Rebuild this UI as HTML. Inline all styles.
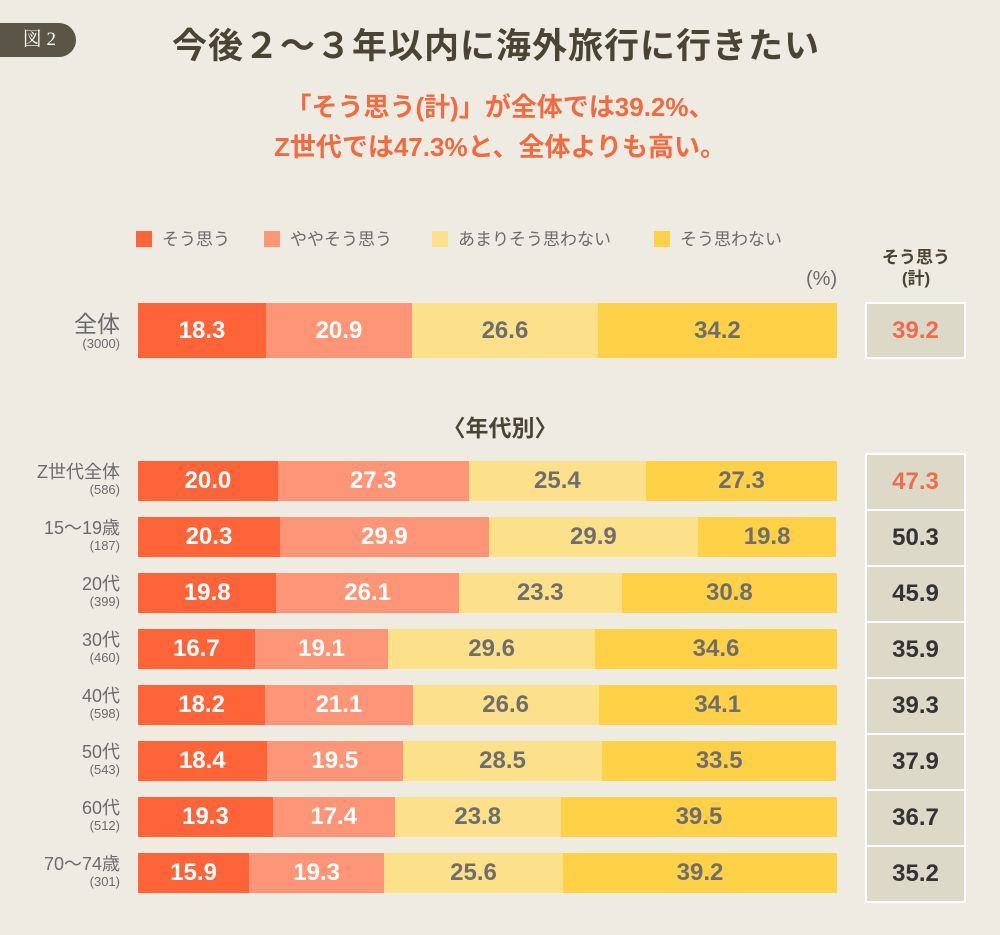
<!DOCTYPE html>
<html><head><meta charset="utf-8"><style>
body{margin:0;width:1000px;height:935px;background:#eeebe2;position:relative;overflow:hidden;font-family:"Liberation Sans","Noto Sans CJK JP",sans-serif}
.a{position:absolute}
.badge{left:-20px;top:23px;width:96px;height:34px;background:#5a5546;border-radius:17px;color:#fff;font-family:"Liberation Serif","Noto Serif CJK SC",serif;font-size:19px;line-height:34px;text-align:right;padding-right:20px;box-sizing:border-box}
.title{left:172px;top:18px;font-size:35px;color:#4a4435;letter-spacing:1px;font-weight:bold}
.sub{left:0;width:1000px;text-align:center;color:#f26a3e;font-size:26px;line-height:40px;top:87px;font-weight:bold}
.leg{top:225px;font-size:17px;color:#6b6b6b}
.leg i{display:inline-block;width:16px;height:16px;vertical-align:-2px;margin-right:10px}
.bar{left:138px;width:699px;display:flex}
.bar span{display:block;height:100%;text-align:center;font-weight:bold;font-size:24px;color:#fff}
.c1{background:#ff6338}.c2{background:#ff9577}.c3{background:#fde08a;color:#6e6e6e!important}.c4{background:#ffd146;color:#6e6e6e!important}
.box{left:865px;width:101px;box-sizing:border-box;border:2px solid #fff;background:#dcd9c8;text-align:center;font-weight:bold;font-size:24px;color:#333}
.lab{right:880px;text-align:right;color:#6b6b6b;font-size:18px;line-height:20px}
.lab small{font-size:13px;display:block;line-height:16px}
</style></head><body>
<div class="a badge">図 2</div>
<div class="a title">今後２～３年以内に海外旅行に行きたい</div>
<div class="a sub">「そう思う(計)」が全体では39.2%、<br>Z世代では47.3%と、全体よりも高い。</div>
<div class="a leg" style="left:136px"><i class="c1"></i>そう思う</div>
<div class="a leg" style="left:264px"><i class="c2"></i>ややそう思う</div>
<div class="a leg" style="left:432px"><i class="c3"></i>あまりそう思わない</div>
<div class="a leg" style="left:654px"><i class="c4"></i>そう思わない</div>
<div class="a" style="left:806px;top:268px;font-size:20px;color:#6b6b6b">(%)</div>
<div class="a" style="left:866px;top:247px;width:100px;text-align:center;font-size:17px;color:#4a4435;line-height:21px;font-weight:bold">そう思う<br>(計)</div>

<div class="a lab" style="top:312px;font-size:23px;line-height:24px">全体<small>(3000)</small></div>
<div class="a bar" style="top:303px;height:55px;line-height:55px"><span class="c1" style="width:18.3%">18.3</span><span class="c2" style="width:20.9%">20.9</span><span class="c3" style="width:26.6%">26.6</span><span class="c4" style="width:34.2%">34.2</span></div>
<div class="a box" style="top:302px;height:57px;line-height:53px;color:#ef6d4e">39.2</div>

<div class="a" style="left:0;width:1000px;top:409px;text-align:center;font-size:23px;color:#4a4435;font-weight:bold">〈年代別〉</div>

<div class="a lab" style="top:462px">Z世代全体<small>(586)</small></div>
<div class="a bar" style="top:461px;height:40px;line-height:40px"><span class="c1" style="width:20%">20.0</span><span class="c2" style="width:27.3%">27.3</span><span class="c3" style="width:25.4%">25.4</span><span class="c4" style="width:27.3%">27.3</span></div>
<div class="a box" style="top:453px;height:58px;line-height:54px;color:#ef6d4e">47.3</div>

<div class="a lab" style="top:518px">15～19歳<small>(187)</small></div>
<div class="a bar" style="top:517px;height:40px;line-height:40px"><span class="c1" style="width:20.3%">20.3</span><span class="c2" style="width:29.9%">29.9</span><span class="c3" style="width:29.9%">29.9</span><span class="c4" style="width:19.8%">19.8</span></div>
<div class="a box" style="top:509px;height:58px;line-height:54px">50.3</div>

<div class="a lab" style="top:574px">20代<small>(399)</small></div>
<div class="a bar" style="top:573px;height:40px;line-height:40px"><span class="c1" style="width:19.8%">19.8</span><span class="c2" style="width:26.1%">26.1</span><span class="c3" style="width:23.3%">23.3</span><span class="c4" style="width:30.8%">30.8</span></div>
<div class="a box" style="top:565px;height:58px;line-height:54px">45.9</div>

<div class="a lab" style="top:630px">30代<small>(460)</small></div>
<div class="a bar" style="top:629px;height:40px;line-height:40px"><span class="c1" style="width:16.7%">16.7</span><span class="c2" style="width:19.1%">19.1</span><span class="c3" style="width:29.6%">29.6</span><span class="c4" style="width:34.6%">34.6</span></div>
<div class="a box" style="top:621px;height:58px;line-height:54px">35.9</div>

<div class="a lab" style="top:686px">40代<small>(598)</small></div>
<div class="a bar" style="top:685px;height:40px;line-height:40px"><span class="c1" style="width:18.2%">18.2</span><span class="c2" style="width:21.1%">21.1</span><span class="c3" style="width:26.6%">26.6</span><span class="c4" style="width:34.1%">34.1</span></div>
<div class="a box" style="top:677px;height:58px;line-height:54px">39.3</div>

<div class="a lab" style="top:742px">50代<small>(543)</small></div>
<div class="a bar" style="top:741px;height:40px;line-height:40px"><span class="c1" style="width:18.4%">18.4</span><span class="c2" style="width:19.5%">19.5</span><span class="c3" style="width:28.5%">28.5</span><span class="c4" style="width:33.5%">33.5</span></div>
<div class="a box" style="top:733px;height:58px;line-height:54px">37.9</div>

<div class="a lab" style="top:798px">60代<small>(512)</small></div>
<div class="a bar" style="top:797px;height:40px;line-height:40px"><span class="c1" style="width:19.3%">19.3</span><span class="c2" style="width:17.4%">17.4</span><span class="c3" style="width:23.8%">23.8</span><span class="c4" style="width:39.5%">39.5</span></div>
<div class="a box" style="top:789px;height:58px;line-height:54px">36.7</div>

<div class="a lab" style="top:854px">70～74歳<small>(301)</small></div>
<div class="a bar" style="top:853px;height:40px;line-height:40px"><span class="c1" style="width:15.9%">15.9</span><span class="c2" style="width:19.3%">19.3</span><span class="c3" style="width:25.6%">25.6</span><span class="c4" style="width:39.2%">39.2</span></div>
<div class="a box" style="top:845px;height:58px;line-height:54px">35.2</div>
</body></html>
